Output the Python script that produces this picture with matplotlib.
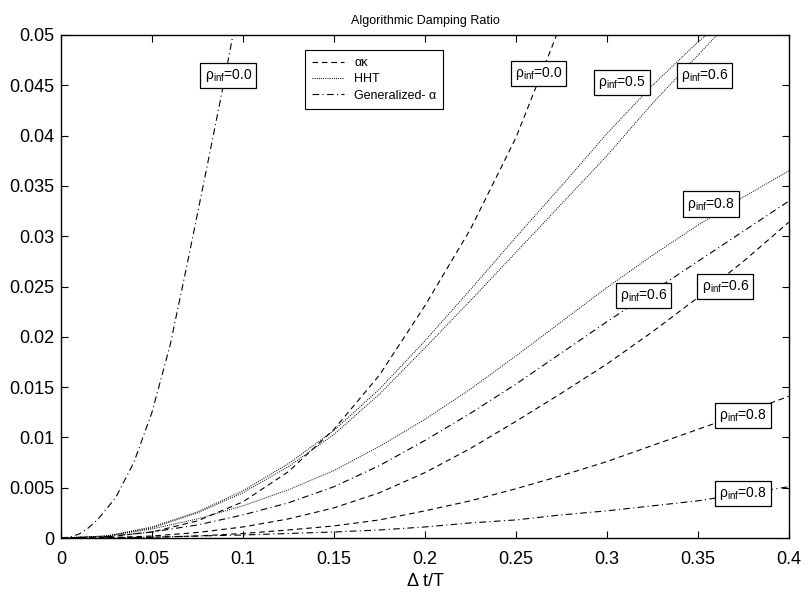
import matplotlib
matplotlib.use('Agg')
import matplotlib.pyplot as plt

plt.rcParams['font.family'] = ['Liberation Sans', 'DejaVu Sans']
plt.rcParams['mathtext.fontset'] = 'custom'
plt.rcParams['mathtext.rm'] = 'Liberation Sans'
plt.rcParams['mathtext.it'] = 'Liberation Sans:italic'

# common grid of dt/T values
dt = [0.0, 0.025, 0.05, 0.075, 0.1, 0.125, 0.15, 0.175, 0.2, 0.225,
      0.25, 0.275, 0.3, 0.325, 0.35, 0.375, 0.4]

# generalized-alpha, rho_inf = 0.0 (steep one)
dt_ga0 = [0.0, 0.005, 0.01, 0.015, 0.02, 0.03, 0.04, 0.05, 0.06, 0.07, 0.08, 0.09, 0.095]
xi_ga0 = [0.0, 0.0001, 0.0004, 0.0010, 0.0018, 0.0040, 0.0075, 0.0125, 0.0192, 0.0278,
          0.0367, 0.0457, 0.0505]

# alpha-kappa, rho_inf = 0.0
dt_ak0 = [0.0, 0.025, 0.05, 0.075, 0.1, 0.125, 0.15, 0.175, 0.2, 0.225, 0.25, 0.275]
xi_ak0 = [0.0, 0.0001, 0.0006, 0.0017, 0.0036, 0.0066, 0.0108, 0.0162, 0.0231, 0.0307,
          0.0398, 0.0512]

# HHT, rho_inf = 0.5 / 0.6
dt_hht = [0.0, 0.025, 0.05, 0.075, 0.1, 0.125, 0.15, 0.175, 0.2, 0.225, 0.25, 0.275,
          0.3, 0.325, 0.35, 0.36, 0.37]
xi_hht5 = [0.0, 0.0002, 0.0011, 0.0026, 0.0047, 0.0074, 0.0107, 0.0148, 0.0196, 0.0247,
           0.0299, 0.0350, 0.0402, 0.0450, 0.0493, 0.0508, 0.0525]
xi_hht6 = [0.0, 0.0002, 0.0010, 0.0025, 0.0045, 0.0071, 0.0103, 0.0143, 0.0189, 0.0236,
           0.0284, 0.0332, 0.0380, 0.0432, 0.0480, 0.0499, 0.0518]

# rest on the common grid
xi_hht8 = [0.0, 0.0002, 0.0009, 0.0019, 0.0032, 0.0048, 0.0067, 0.0091, 0.0118, 0.0148,
           0.0181, 0.0215, 0.0249, 0.0281, 0.0311, 0.0339, 0.0365]
xi_ga6 = [0.0, 0.00015, 0.0006, 0.0013, 0.0023, 0.0035, 0.0051, 0.0072, 0.0097, 0.0124,
          0.0153, 0.0184, 0.0215, 0.0245, 0.0275, 0.0305, 0.0335]
xi_ak6 = [0.0, 0.00003, 0.0002, 0.00055, 0.0011, 0.0019, 0.0030, 0.0045, 0.0065, 0.0089,
          0.0116, 0.0144, 0.0173, 0.0205, 0.0239, 0.0275, 0.0314]
xi_ak8 = [0.0, 0.00001, 0.00008, 0.0002, 0.00045, 0.0008, 0.0012, 0.0018, 0.0027, 0.0037,
          0.0049, 0.0062, 0.0076, 0.0092, 0.0108, 0.0124, 0.0141]
xi_ga8 = [0.0, 0.00002, 0.00008, 0.0002, 0.0003, 0.00045, 0.0006, 0.0008, 0.0011, 0.0015,
          0.0018, 0.0023, 0.0027, 0.0032, 0.0037, 0.0044, 0.0051]

# label text and where the boxes sit
lbl_text = ['0.0', '0.0', '0.5', '0.6', '0.8', '0.6', '0.6', '0.8', '0.8']
lbl_x = [0.0920, 0.2624, 0.3082, 0.3536, 0.3571, 0.3201, 0.3651, 0.3747, 0.3747]
lbl_y = [0.0460, 0.0462, 0.0453, 0.0460, 0.0332, 0.0241, 0.0250, 0.0122, 0.0044]

ls_ak = (0, (5, 3.5))
ls_hht = (0, (1, 1.2))
ls_ga = (0, (6, 3, 1, 3))
lw = 0.8

fig = plt.figure(figsize=(8.1, 5.98), dpi=100)
ax = fig.add_axes([0.0753, 0.1003, 0.8987, 0.8412])

h_ak, = ax.plot(dt_ak0, xi_ak0, color='k', lw=lw, ls=ls_ak)
ax.plot(dt, xi_ak6, color='k', lw=lw, ls=ls_ak)
ax.plot(dt, xi_ak8, color='k', lw=lw, ls=ls_ak)
h_hht, = ax.plot(dt_hht, xi_hht5, color='k', lw=0.7, ls=ls_hht)
ax.plot(dt_hht, xi_hht6, color='k', lw=0.7, ls=ls_hht)
ax.plot(dt, xi_hht8, color='k', lw=0.7, ls=ls_hht)
h_ga, = ax.plot(dt_ga0, xi_ga0, color='k', lw=lw, ls=ls_ga)
ax.plot(dt, xi_ga6, color='k', lw=lw, ls=ls_ga)
ax.plot(dt, xi_ga8, color='k', lw=lw, ls=ls_ga)

for t, x, y in zip(lbl_text, lbl_x, lbl_y):
    ax.text(x, y, r'ρ$_{\mathrm{inf}}$=' + t, ha='center', va='center', fontsize=10,
            bbox=dict(boxstyle='square,pad=0.3', fc='white', ec='k', lw=0.9))

leg = ax.legend([h_ak, h_hht, h_ga], ['ακ', 'HHT', 'Generalized- α'],
                loc='upper left', bbox_to_anchor=(0.335, 0.97), borderaxespad=0,
                fontsize=9, fancybox=False, framealpha=1, edgecolor='k',
                handlelength=2.6, borderpad=0.55, labelspacing=0.35)
leg.get_frame().set_linewidth(0.8)

ax.set_xlim(0, 0.4)
ax.set_ylim(0, 0.05)
ax.set_xticks([0, 0.05, 0.1, 0.15, 0.2, 0.25, 0.3, 0.35, 0.4])
ax.set_xticklabels(['0', '0.05', '0.1', '0.15', '0.2', '0.25', '0.3', '0.35', '0.4'])
ax.set_yticks([0, 0.005, 0.01, 0.015, 0.02, 0.025, 0.03, 0.035, 0.04, 0.045, 0.05])
ax.set_yticklabels(['0', '0.005', '0.01', '0.015', '0.02', '0.025', '0.03', '0.035',
                    '0.04', '0.045', '0.05'])
ax.tick_params(direction='in', length=5, width=0.8, top=True, right=True, labelsize=13)
ax.tick_params(axis='x', pad=9)
ax.tick_params(axis='y', pad=5)
for s in ax.spines.values():
    s.set_linewidth(1.0)

ax.set_title('Algorithmic Damping Ratio', fontsize=9, pad=8)
ax.set_xlabel('Δ t/T', fontsize=13, labelpad=4)

fig.savefig('out.png', dpi=100)
